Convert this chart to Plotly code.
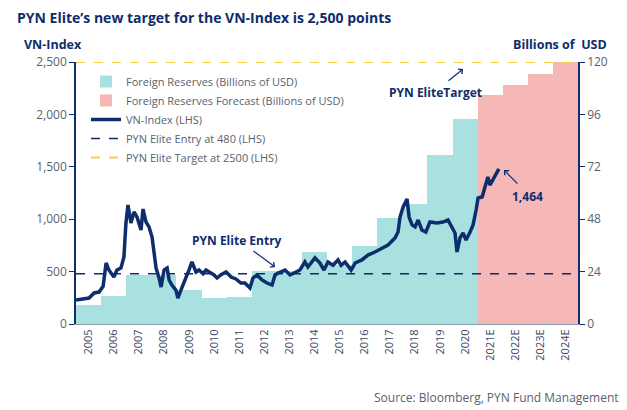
import plotly.graph_objects as go

# ---------------- data ----------------
years = ["2005", "2006", "2007", "2008", "2009", "2010", "2011", "2012", "2013", "2014",
         "2015", "2016", "2017", "2018", "2019", "2020", "2021E", "2022E", "2023E", "2024E"]
year_start = list(range(2005, 2025))
reserves = [8.7, 12.8, 22.4, 22.4, 15.6, 12.0, 12.4, 24.5, 24.5, 33.0,
            27.0, 35.7, 48.5, 55.0, 77.4, 94.0, None, None, None, None]
reserves_fc = [None] * 16 + [105.0, 109.5, 114.5, 120.0]

vn_time = [2005.00, 2005.52, 2005.72, 2005.92, 2006.08, 2006.20, 2006.31, 2006.51, 2006.63, 2006.79,
           2006.91, 2006.99, 2007.07, 2007.19, 2007.31, 2007.43, 2007.59, 2007.67, 2007.79, 2007.91,
           2008.03, 2008.11, 2008.19, 2008.31, 2008.39, 2008.51, 2008.63, 2008.71, 2008.82, 2008.98,
           2009.06, 2009.18, 2009.30, 2009.50, 2009.62, 2009.78, 2009.90, 2010.06, 2010.18, 2010.34,
           2010.50, 2010.62, 2010.78, 2010.98, 2011.18, 2011.37, 2011.57, 2011.73, 2011.93, 2012.05,
           2012.21, 2012.41, 2012.61, 2012.81, 2012.93, 2013.05, 2013.33, 2013.53, 2013.73, 2013.92,
           2014.12, 2014.24, 2014.52, 2014.72, 2014.88, 2015.04, 2015.24, 2015.44, 2015.56, 2015.72,
           2015.96, 2016.12, 2016.39, 2016.63, 2016.91, 2017.19, 2017.43, 2017.71, 2017.83, 2017.91,
           2018.03, 2018.19, 2018.27, 2018.39, 2018.51, 2018.63, 2018.78, 2018.94, 2019.10, 2019.38,
           2019.62, 2019.82, 2019.98, 2020.10, 2020.18, 2020.30, 2020.42, 2020.54, 2020.70, 2020.82,
           2020.94, 2021.02, 2021.18, 2021.30, 2021.41, 2021.49, 2021.61, 2021.77, 2021.85]
vn_index = [229, 248, 296, 305, 360, 582, 515, 448, 515, 534,
            640, 964, 1135, 964, 1069, 1021, 897, 1097, 973, 926,
            830, 677, 534, 439, 353, 515, 534, 420, 372, 324,
            248, 324, 391, 515, 592, 496, 515, 480, 515, 496,
            468, 439, 470, 496, 448, 430, 391, 391, 343, 439,
            468, 420, 391, 372, 468, 486, 515, 468, 496, 515,
            592, 544, 630, 582, 515, 592, 560, 611, 560, 592,
            515, 582, 611, 658, 687, 725, 754, 821, 878, 1021,
            1116, 1193, 1021, 945, 926, 992, 897, 878, 973, 964,
            973, 992, 916, 868, 687, 821, 868, 802, 878, 945,
            1088, 1202, 1212, 1307, 1403, 1326, 1374, 1450, 1480]

entry_level = 480
target_level = 2500
last_value_label = "1,464"

# ---------------- styling ----------------
NAVY = "#0d2d6c"
TEAL = "#a9e0e0"
PINK = "#f6b8b6"
YELLOW = "#f7cf47"
GREY = "#5a5f6e"
FONT = "Open Sans"

bar_x = [y + 0.5 for y in year_start]

fig = go.Figure()
fig.add_trace(go.Bar(x=bar_x, y=reserves, width=1.0, marker=dict(color=TEAL, line=dict(width=0)),
                     name="Foreign Reserves (Billions of USD)", yaxis="y"))
fig.add_trace(go.Bar(x=bar_x, y=reserves_fc, width=1.0, marker=dict(color=PINK, line=dict(width=0)),
                     name="Foreign Reserves Forecast (Billions of USD)", yaxis="y"))
fig.add_trace(go.Scatter(x=vn_time, y=vn_index, mode="lines", line=dict(color=NAVY, width=3.5),
                         name="VN-Index (LHS)", yaxis="y2"))
fig.add_trace(go.Scatter(x=[2005, 2025], y=[entry_level, entry_level], mode="lines",
                         line=dict(color=NAVY, width=1.5, dash="dash"),
                         name="PYN Elite Entry at 480 (LHS)", yaxis="y2"))
fig.add_trace(go.Scatter(x=[2005, 2025], y=[target_level, target_level], mode="lines",
                         line=dict(color=YELLOW, width=2, dash="dash"),
                         name="PYN Elite Target at 2500 (LHS)", yaxis="y2"))

L, R, T, B = 76, 49, 62, 86
PW, PH = 627 - L - R, 410 - T - B


def px(xp):
    return (xp - L) / PW


def py(yp):
    return (T + PH - yp) / PH


annotations = [
    dict(text="<b>PYN Elite’s new target for the VN-Index is 2,500 points</b>", x=px(15), y=py(17),
         xref="paper", yref="paper", xanchor="left", yanchor="middle", showarrow=False,
         font=dict(size=14, color=NAVY, family=FONT)),
    dict(text="<b>VN-Index</b>", x=px(22), y=py(44), xref="paper", yref="paper",
         xanchor="left", yanchor="middle", showarrow=False, font=dict(size=12.5, color=NAVY, family=FONT)),
    dict(text="<b>Billions of  USD</b>", x=px(609), y=py(45), xref="paper", yref="paper",
         xanchor="right", yanchor="middle", showarrow=False, font=dict(size=12.5, color=NAVY, family=FONT)),
    dict(text="Source: Bloomberg, PYN Fund Management", x=px(621), y=py(397), xref="paper", yref="paper",
         xanchor="right", yanchor="middle", showarrow=False, font=dict(size=12, color=GREY, family=FONT)),
    # text labels
    dict(text="<b>PYN Elite Entry</b>", x=px(237), y=py(240), xref="paper", yref="paper",
         xanchor="center", yanchor="middle", showarrow=False, font=dict(size=12, color=NAVY, family=FONT)),
    dict(text="<b>PYN EliteTarget</b>", x=px(435), y=py(92), xref="paper", yref="paper",
         xanchor="center", yanchor="middle", showarrow=False, font=dict(size=12, color=NAVY, family=FONT)),
    dict(text="<b>" + last_value_label + "</b>", x=px(527), y=py(196), xref="paper", yref="paper",
         xanchor="center", yanchor="middle", showarrow=False, font=dict(size=12, color=NAVY, family=FONT)),
    # arrows
    dict(text="", x=2012.93, y=544, xref="x", yref="y2", ax=-23, ay=-17, showarrow=True,
         arrowhead=4, arrowsize=1, arrowwidth=1.2, arrowcolor=NAVY),
    dict(text="", x=2020.42, y=2433, xref="x", yref="y2", ax=-16, ay=13, showarrow=True,
         arrowhead=4, arrowsize=1, arrowwidth=1.2, arrowcolor=NAVY),
    dict(text="", x=2022.05, y=1469, xref="x", yref="y2", ax=15, ay=15, showarrow=True,
         arrowhead=4, arrowsize=1, arrowwidth=1.2, arrowcolor=NAVY),
]

fig.update_layout(
    width=627, height=410,
    margin=dict(l=L, r=R, t=T, b=B),
    paper_bgcolor="white", plot_bgcolor="white",
    font=dict(family=FONT, color=GREY),
    barmode="overlay", bargap=0,
    showlegend=True,
    legend=dict(x=px(86), y=py(67), xanchor="left", yanchor="top", bgcolor="rgba(0,0,0,0)",
                font=dict(size=11, color=GREY, family=FONT), tracegroupgap=0, itemwidth=30,
                traceorder="normal"),
    xaxis=dict(range=[2005, 2025], tickvals=bar_x, ticktext=years, tickangle=-90,
               showgrid=False, zeroline=False, showline=True, linecolor="#8a9bb0", linewidth=1,
               ticks="", tickfont=dict(size=11, color="#3b4660", family=FONT)),
    yaxis=dict(range=[0, 120], tickvals=[0, 24, 48, 72, 96, 120], side="right",
               showgrid=False, zeroline=False, showline=True, linecolor=NAVY, linewidth=1.5,
               ticks="outside", ticklen=5, tickcolor=NAVY, tickfont=dict(size=12, color=GREY, family=FONT)),
    yaxis2=dict(range=[0, 2500], tickvals=[0, 500, 1000, 1500, 2000, 2500], tickformat=",",
                side="left", overlaying="y",
                showgrid=False, zeroline=False, showline=True, linecolor=NAVY, linewidth=1.5,
                ticks="outside", ticklen=5, tickcolor=NAVY, tickfont=dict(size=12, color=GREY, family=FONT)),
    annotations=annotations,
)

fig.write_html("out.html")
